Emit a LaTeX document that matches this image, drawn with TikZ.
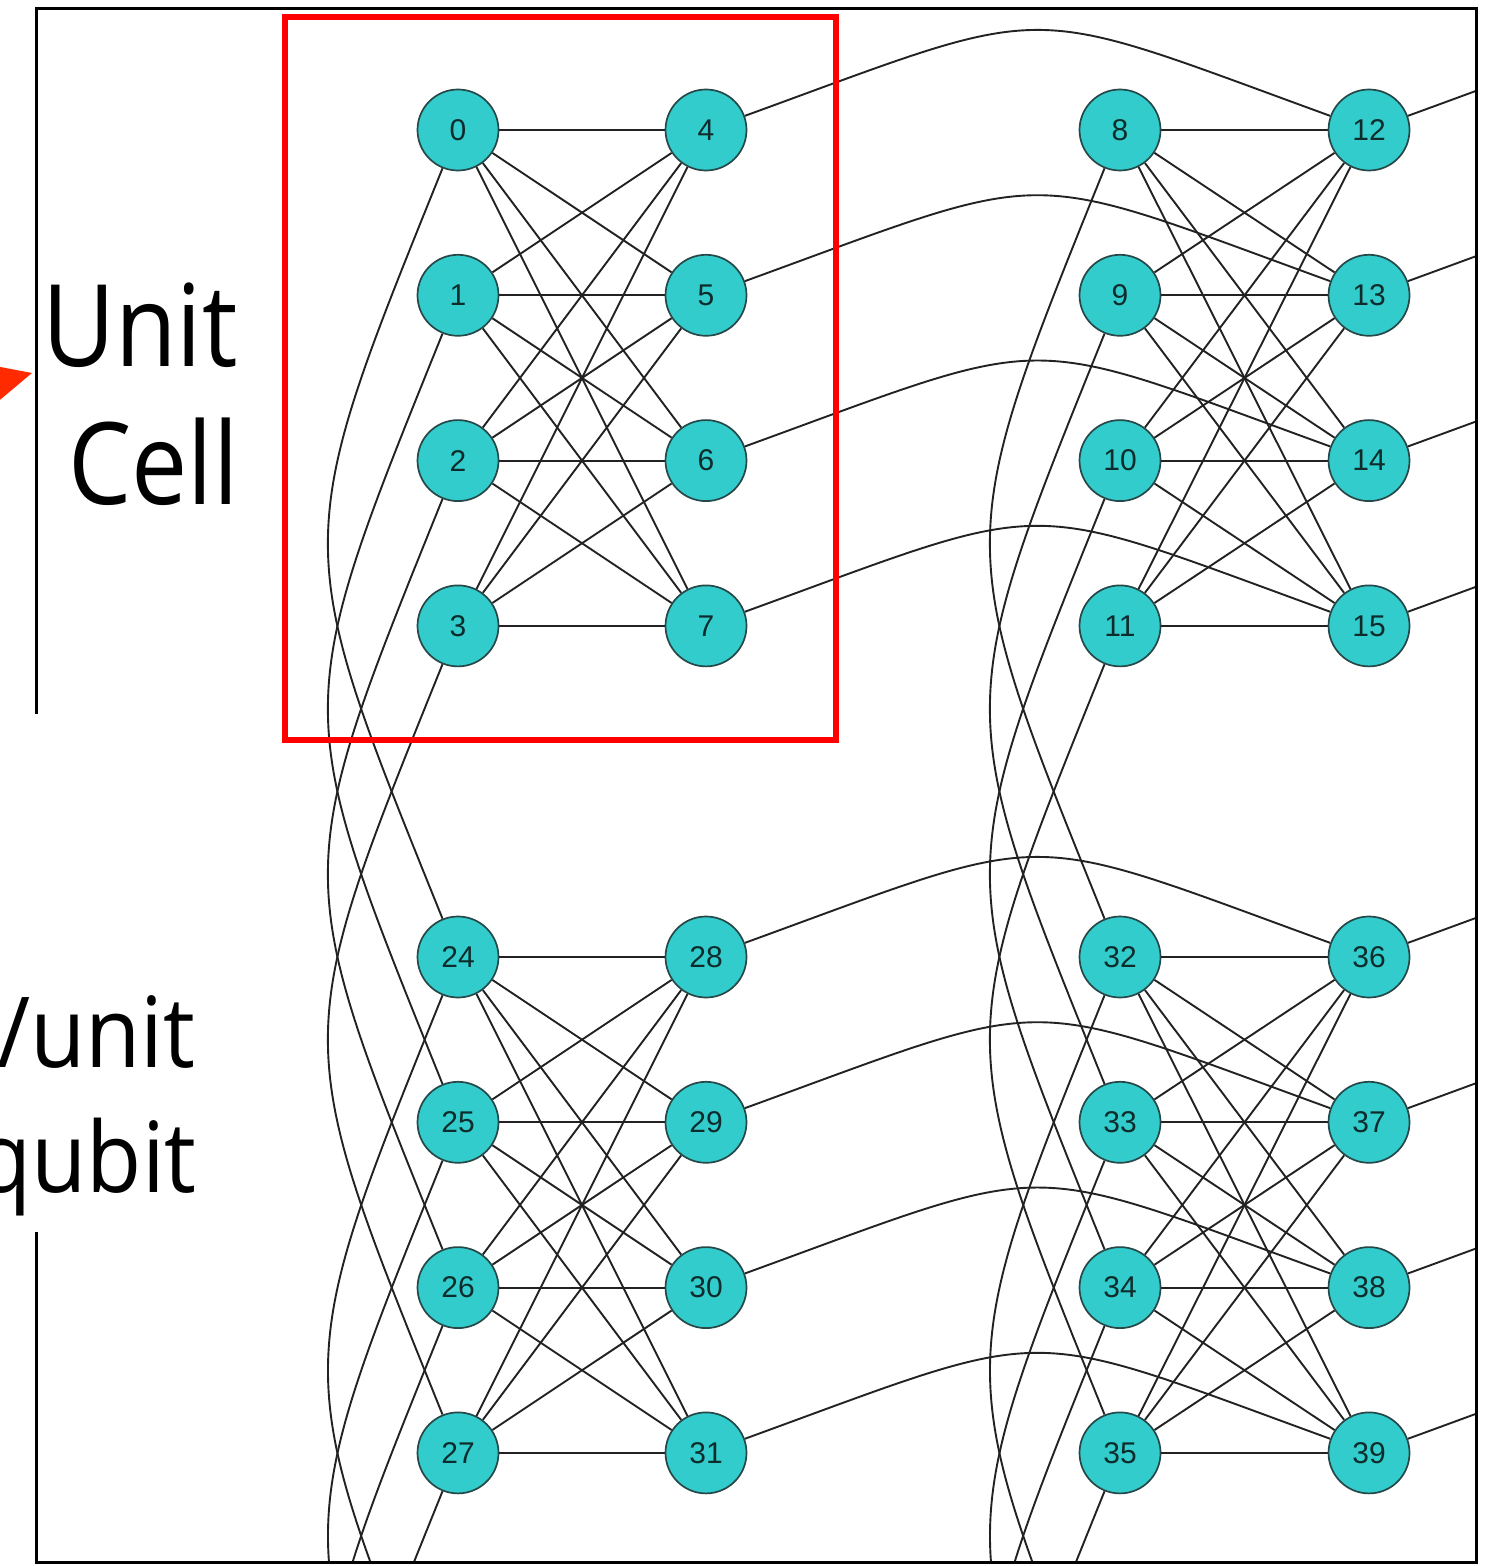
\documentclass[tikz,border=0pt]{standalone}
\usepackage{fontspec}
\setmainfont{Liberation Sans}
\newfontfamily\captionfont[FakeStretch=0.88]{Open Sans}
\newfontfamily\subcaptionfont[FakeStretch=0.92]{Open Sans}
\usetikzlibrary{calc}

\definecolor{qfill}{HTML}{33CCCC}
\definecolor{qline}{HTML}{264848}
\definecolor{qtext}{HTML}{0E2C2C}
\definecolor{edgecol}{HTML}{222222}
\definecolor{cellred}{HTML}{FF0000}
\definecolor{arrowred}{HTML}{FF2A00}

\pgfdeclarelayer{paper}
\pgfdeclarelayer{wires}
\pgfsetlayers{paper,wires,main}

\begin{document}
\begin{tikzpicture}[x=0.5pt,y=0.5pt,
  qubit/.style={circle, fill=qfill, draw=qline, line width=0.85pt,
    minimum size=40.5pt, inner sep=0pt,
    font=\fontsize{15}{15}\selectfont, text=qtext},
  ghost/.style={circle, minimum size=40.5pt, inner sep=0pt},
  coupler/.style={draw=edgecol, line width=0.95pt},
  caption/.style={anchor=base east, inner sep=0pt, text=black},
]
\useasboundingbox (0,0) rectangle (1487,-1566);
\begin{pgfonlayer}{paper}
  \fill[white] (0,0) rectangle (1487,-1566);
\end{pgfonlayer}

% qubits of the four visible unit cells (index = 24*row + 8*col + k)
\foreach \R in {0,1} {
  \foreach \C in {0,1} {
    \foreach \k in {0,...,3} {
      \pgfmathtruncatemacro\li{24*\R+8*\C+\k}
      \pgfmathtruncatemacro\ri{24*\R+8*\C+4+\k}
      \pgfmathsetmacro\xl{458+662*\C}
      \pgfmathsetmacro\xr{706+663*\C}
      \pgfmathsetmacro\yy{-(130+165.3*\k+827*\R)}
      \node[qubit] (q\li) at (\xl,\yy) {\li};
      \node[qubit] (q\ri) at (\xr,\yy) {\ri};
    }
  }
}

% neighbouring qubits beyond the frame (targets of the outgoing couplers)
\foreach \k in {0,...,3} {
  \pgfmathsetmacro\yy{-(130+165.3*\k)}
  \pgfmathsetmacro\yb{-(130+165.3*\k+827)}
  \pgfmathsetmacro\yc{-(130+165.3*\k+1654)}
  \pgfmathtruncatemacro\ia{20+\k}
  \pgfmathtruncatemacro\ib{44+\k}
  \pgfmathtruncatemacro\ic{48+\k}
  \pgfmathtruncatemacro\id{56+\k}
  \node[ghost] (q\ia) at (2032,\yy) {};
  \node[ghost] (q\ib) at (2032,\yb) {};
  \node[ghost] (q\ic) at (458,\yc) {};
  \node[ghost] (q\id) at (1120,\yc) {};
}

\begin{pgfonlayer}{wires}
  % complete bipartite couplers inside each unit cell
  \foreach \R in {0,1} {
    \foreach \C in {0,1} {
      \foreach \a in {0,...,3} {
        \foreach \b in {0,...,3} {
          \pgfmathtruncatemacro\i{24*\R+8*\C+\a}
          \pgfmathtruncatemacro\j{24*\R+8*\C+4+\b}
          \draw[coupler] (q\i) -- (q\j);
        }
      }
    }
  }
  \begin{scope}
    \clip (36,-9) rectangle (1476,-1562);
    % horizontal couplers to the cell on the right
    \foreach \R in {0,1} {
      \foreach \C in {0,1} {
        \foreach \k in {0,...,3} {
          \pgfmathtruncatemacro\i{24*\R+8*\C+4+\k}
          \pgfmathtruncatemacro\j{24*\R+8*\C+12+\k}
          \draw[coupler] (q\i.20) .. controls +(20:335) and +(160:335) .. (q\j.160);
        }
      }
    }
    % vertical couplers to the cell below
    \foreach \R in {0,1} {
      \foreach \C in {0,1} {
        \foreach \k in {0,...,3} {
          \pgfmathtruncatemacro\i{24*\R+8*\C+\k}
          \pgfmathtruncatemacro\j{24*\R+8*\C+24+\k}
          \draw[coupler] (q\i.248) .. controls +(248:408) and +(112:408) .. (q\j.112);
        }
      }
    }
  \end{scope}
\end{pgfonlayer}

% outer frame, open on the left where the lower caption sits
\draw[line width=1.5pt] (36,-714) -- (36,-9) -- (1476,-9) -- (1476,-1562) -- (36,-1562) -- (36,-1232);

% highlighted unit cell
\draw[cellred, line width=2.6pt] (285,-17) rectangle (836,-740);

% arrow head pointing at the frame
\fill[arrowred] (32,-373) -- (-5,-366) -- (-5,-404) -- cycle;

% captions
\node[caption, font=\captionfont\fontsize{57}{57}\selectfont] (capunit) at (238,-367) {Unit};
\node[caption, font=\captionfont\fontsize{57}{57}\selectfont] (capcell) at (239,-505) {Cell};
\node[caption, font=\subcaptionfont\fontsize{49}{49}\selectfont] (capper) at (196,-1067) {/unit};
\node[caption, font=\subcaptionfont\fontsize{49}{49}\selectfont] (capqubit) at (197,-1192) {qubit};
\end{tikzpicture}
\end{document}
